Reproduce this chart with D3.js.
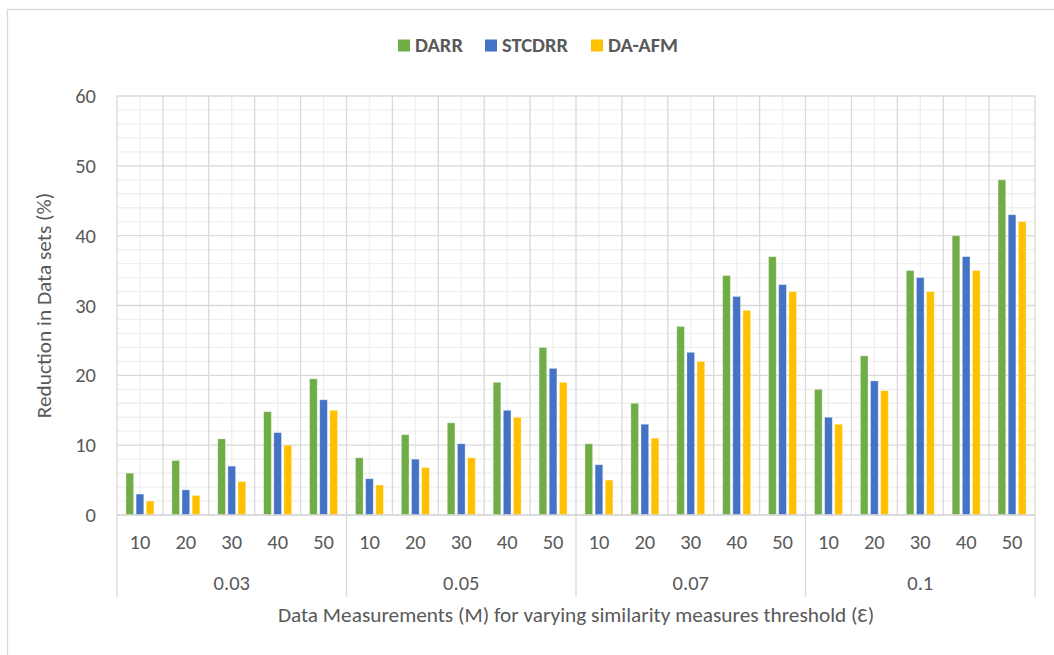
<!DOCTYPE html>
<html>
<head>
<meta charset="utf-8">
<script src="https://cdn.jsdelivr.net/npm/d3@7"></script>
<style>
  html, body { margin: 0; padding: 0; background: #ffffff; }
  svg { display: block; }
  text { font-family: "Carlito", "Liberation Sans", Arial, sans-serif; fill: #595959; }
</style>
</head>
<body>
<svg id="chart" width="1054" height="655"></svg>
<script>
// Similarity thresholds (outer category level) and data measurements (inner level)
const thresholds = ["0.03", "0.05", "0.07", "0.1"];
const measurements = ["10", "20", "30", "40", "50"];

// Reduction in data sets (%) per series, ordered threshold by threshold, M = 10..50
const darr   = [6, 7.8, 10.9, 14.8, 19.5,  8.2, 11.5, 13.2, 19, 24,  10.2, 16, 27, 34.3, 37,  18, 22.8, 35, 40, 48];
const stcdrr = [3, 3.6, 7, 11.8, 16.5,     5.2, 8, 10.2, 15, 21,     7.2, 13, 23.3, 31.3, 33,  14, 19.2, 34, 37, 43];
const daAfm  = [2, 2.8, 4.8, 10, 15,       4.3, 6.8, 8.2, 14, 19,    5, 11, 22, 29.3, 32,      13, 17.8, 32, 35, 42];

const seriesNames = ["DARR", "STCDRR", "DA-AFM"];
const seriesColors = ["#70AD47", "#4472C4", "#FFC000"];
const yTicks = [0, 10, 20, 30, 40, 50, 60];

const seriesValues = [darr, stcdrr, daAfm];

// Flat list of categories: one per (threshold, measurement)
const categories = [];
thresholds.forEach(t => measurements.forEach(m => categories.push({ key: t + "|" + m, t, m })));

const svg = d3.select("#chart");
const W = 1054, H = 655;
const plot = { left: 117, right: 1035, top: 96, bottom: 515 };

// Outer chart frame
svg.append("rect")
  .attr("x", 7.5).attr("y", 9.5)
  .attr("width", W + 20).attr("height", H + 20)
  .attr("fill", "#ffffff")
  .attr("stroke", "#d9d9d9").attr("stroke-width", 1.3);

const x0 = d3.scaleBand()
  .domain(categories.map(c => c.key))
  .range([plot.left, plot.right])
  .padding(0);

const bw = x0.bandwidth();
const x1 = d3.scaleBand()
  .domain(seriesNames)
  .range([bw * 0.195, bw * 0.805])
  .paddingInner(0.24)
  .paddingOuter(0);

const y = d3.scaleLinear().domain([0, 60]).range([plot.bottom, plot.top]);

const grid = svg.append("g");

// Minor horizontal gridlines every 2
d3.range(0, 61, 2).filter(v => v % 10 !== 0).forEach(v => {
  grid.append("line")
    .attr("x1", plot.left).attr("x2", plot.right)
    .attr("y1", y(v)).attr("y2", y(v))
    .attr("stroke", "#efefef").attr("stroke-width", 1.3);
});
// Minor vertical gridlines at category centres
categories.forEach(c => {
  const cx = x0(c.key) + bw / 2;
  grid.append("line")
    .attr("x1", cx).attr("x2", cx)
    .attr("y1", plot.top).attr("y2", plot.bottom)
    .attr("stroke", "#efefef").attr("stroke-width", 1.3);
});
// Major horizontal gridlines
yTicks.forEach(v => {
  grid.append("line")
    .attr("x1", plot.left).attr("x2", plot.right)
    .attr("y1", y(v)).attr("y2", y(v))
    .attr("stroke", "#d9d9d9").attr("stroke-width", 1.3);
});
// Major vertical gridlines at category boundaries
categories.forEach((c, i) => {
  if (i === 0) return;
  const bx = x0(c.key);
  grid.append("line")
    .attr("x1", bx).attr("x2", bx)
    .attr("y1", plot.top).attr("y2", plot.bottom)
    .attr("stroke", "#d9d9d9").attr("stroke-width", 1.3);
});

// Bars
const bars = svg.append("g");
seriesNames.forEach((name, si) => {
  bars.selectAll(null)
    .data(categories.map((c, i) => ({ c, v: seriesValues[si][i] })))
    .join("rect")
    .attr("x", d => x0(d.c.key) + x1(name))
    .attr("y", d => y(d.v))
    .attr("width", x1.bandwidth())
    .attr("height", d => y(0) - y(d.v))
    .attr("fill", seriesColors[si])
    .attr("stroke", "#ffffff").attr("stroke-opacity", 0.45).attr("stroke-width", 0.8);
});

// Axis lines and group separators
const axisG = svg.append("g");
const axisBottom = 597;
axisG.append("line")
  .attr("x1", plot.left).attr("x2", plot.right)
  .attr("y1", plot.bottom).attr("y2", plot.bottom)
  .attr("stroke", "#d9d9d9").attr("stroke-width", 1.3);
const groupEdges = thresholds.map(t => x0(t + "|" + measurements[0])).concat([plot.right]);
groupEdges.forEach((gx, i) => {
  const top = (i === 0 || i === groupEdges.length - 1) ? plot.top : plot.bottom;
  axisG.append("line")
    .attr("x1", gx).attr("x2", gx)
    .attr("y1", top).attr("y2", axisBottom)
    .attr("stroke", "#d9d9d9").attr("stroke-width", 1.3);
});

// Y tick labels
const yAxis = d3.axisLeft(y).tickValues(yTicks).tickSize(0).tickPadding(0);
const yAxisG = svg.append("g")
  .attr("transform", `translate(${plot.left - 21},0)`)
  .call(yAxis);
yAxisG.select(".domain").remove();
yAxisG.selectAll("text")
  .attr("fill", "#595959")
  .style("font-family", '"Carlito", "Liberation Sans", Arial, sans-serif')
  .style("font-size", "20.5px");

// Category labels (M)
const catG = svg.append("g");
categories.forEach(c => {
  catG.append("text")
    .attr("x", x0(c.key) + bw / 2)
    .attr("y", 549)
    .attr("text-anchor", "middle")
    .style("font-size", "20.5px")
    .text(c.m);
});
// Threshold labels
thresholds.forEach((t, i) => {
  const cx = (groupEdges[i] + groupEdges[i + 1]) / 2;
  catG.append("text")
    .attr("x", cx)
    .attr("y", 590)
    .attr("text-anchor", "middle")
    .style("font-size", "20.5px")
    .text(t);
});

// Axis titles
svg.append("text")
  .attr("x", (plot.left + plot.right) / 2)
  .attr("y", 622)
  .attr("text-anchor", "middle")
  .style("font-size", "21.3px")
  .text("Data Measurements (M) for varying similarity measures threshold (Ɛ)");

svg.append("text")
  .attr("transform", `translate(51,${(plot.top + plot.bottom) / 2}) rotate(-90)`)
  .attr("text-anchor", "middle")
  .style("font-size", "21.3px")
  .text("Reduction in Data sets (%)");

// Legend
const legendX = [398, 485, 591];
const legend = svg.append("g");
seriesNames.forEach((name, i) => {
  legend.append("rect")
    .attr("x", legendX[i]).attr("y", 39.5)
    .attr("width", 12).attr("height", 12)
    .attr("fill", seriesColors[i]);
  legend.append("text")
    .attr("x", legendX[i] + 17)
    .attr("y", 51.5)
    .style("font-size", "20.5px")
    .style("font-weight", "bold")
    .text(name);
});
</script>
</body>
</html>
